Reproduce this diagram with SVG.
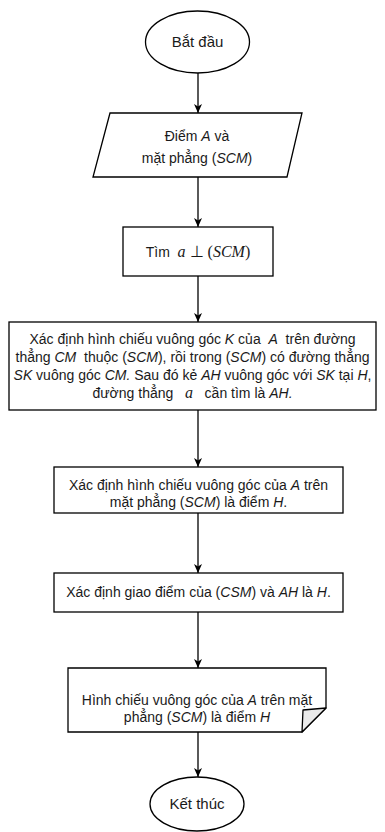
<svg xmlns="http://www.w3.org/2000/svg" width="385" height="832" viewBox="0 0 385 832">
<defs>
<marker id="arr" markerWidth="10" markerHeight="10" refX="9" refY="5" orient="auto" markerUnits="userSpaceOnUse">
<path d="M0,1 L9,5 L0,9 L2.5,5 z" fill="#000"/>
</marker>
</defs>
<style>
.s{fill:#fff;stroke:#000;stroke-width:1.3}
.t{font-family:"Liberation Sans",Arial,sans-serif;font-size:14px;fill:#1a1a1a;text-anchor:middle;white-space:pre}
.i{font-style:italic}
.m{font-family:"Liberation Serif","Times New Roman",serif;font-style:italic;font-size:16px}
.mr{font-family:"Liberation Serif","Times New Roman",serif;font-size:16px}
.c{stroke:#000;stroke-width:1.3;fill:none;marker-end:url(#arr)}
</style>
<rect width="385" height="832" fill="#fff"/>
<g id="connectors">
<line class="c" x1="198" y1="73" x2="198" y2="113"/>
<line class="c" x1="198" y1="177" x2="198" y2="227"/>
<line class="c" x1="198" y1="276" x2="198" y2="322"/>
<line class="c" x1="198" y1="410" x2="198" y2="467"/>
<line class="c" x1="198" y1="513" x2="198" y2="573"/>
<line class="c" x1="198" y1="612" x2="198" y2="668"/>
<line class="c" x1="198" y1="732" x2="198" y2="777"/>
</g>
<g id="start">
<ellipse class="s" cx="197.5" cy="42" rx="52" ry="31"/>
<text class="t" x="197.5" y="47" style="font-size:15px">Bắt đầu</text>
</g>
<g id="input">
<polygon class="s" points="110,113 302,113 287,177 93,177"/>
<text class="t" x="197" y="141">Điểm <tspan class="i">A</tspan> và</text>
<text class="t" x="197" y="163">mặt phẳng (<tspan class="i">SCM</tspan>)</text>
</g>
<g id="find">
<rect class="s" x="123" y="227" width="150" height="49"/>
<text class="t" x="198" y="257">Tìm  <tspan class="m">a</tspan><tspan class="mr"> ⊥ (</tspan><tspan class="m">SCM</tspan><tspan class="mr">)</tspan></text>
</g>
<g id="method1">
<rect class="s" x="9" y="322" width="367" height="88"/>
<text class="t" x="192.5" y="344">Xác định hình chiếu vuông góc <tspan class="i">K</tspan> của  <tspan class="i">A</tspan>  trên đường</text>
<text class="t" x="192.5" y="362">thẳng <tspan class="i">CM</tspan>  thuộc (<tspan class="i">SCM</tspan>), rồi trong (<tspan class="i">SCM</tspan>) có đường thẳng</text>
<text class="t" x="192.5" y="380"><tspan class="i">SK</tspan> vuông góc <tspan class="i">CM.</tspan> Sau đó kẻ <tspan class="i">AH</tspan> vuông góc với <tspan class="i">SK</tspan> tại <tspan class="i">H</tspan>,</text>
<text class="t" x="192.5" y="398">đường thẳng   <tspan class="m">a</tspan>   cần tìm là <tspan class="i">AH.</tspan></text>
</g>
<g id="method2">
<rect class="s" x="54" y="467" width="289" height="46"/>
<text class="t" x="198.5" y="490">Xác định hình chiếu vuông góc của <tspan class="i">A</tspan> trên</text>
<text class="t" x="198.5" y="507">mặt phẳng (<tspan class="i">SCM</tspan>) là điểm <tspan class="i">H</tspan>.</text>
</g>
<g id="method3">
<rect class="s" x="54" y="573" width="289" height="39"/>
<text class="t" x="198.5" y="597">Xác định giao điểm của (<tspan class="i">CSM</tspan>) và <tspan class="i">AH</tspan> là <tspan class="i">H</tspan>.</text>
</g>
<g id="result">
<path class="s" d="M68,668 L326,668 L326,708 L302,732 L68,732 Z"/>
<path d="M326,708 L303,710 L302,732 Z" fill="#ebebeb" stroke="#000" stroke-width="1.3" stroke-linejoin="round"/>
<text class="t" x="197" y="705">Hình chiếu vuông góc của <tspan class="i">A</tspan> trên mặt</text>
<text class="t" x="197" y="722">phẳng (<tspan class="i">SCM</tspan>) là điểm <tspan class="i">H</tspan></text>
</g>
<g id="end">
<ellipse class="s" cx="197" cy="804" rx="47" ry="27"/>
<text class="t" x="197" y="809" style="font-size:15px">Kết thúc</text>
</g>
</svg>
